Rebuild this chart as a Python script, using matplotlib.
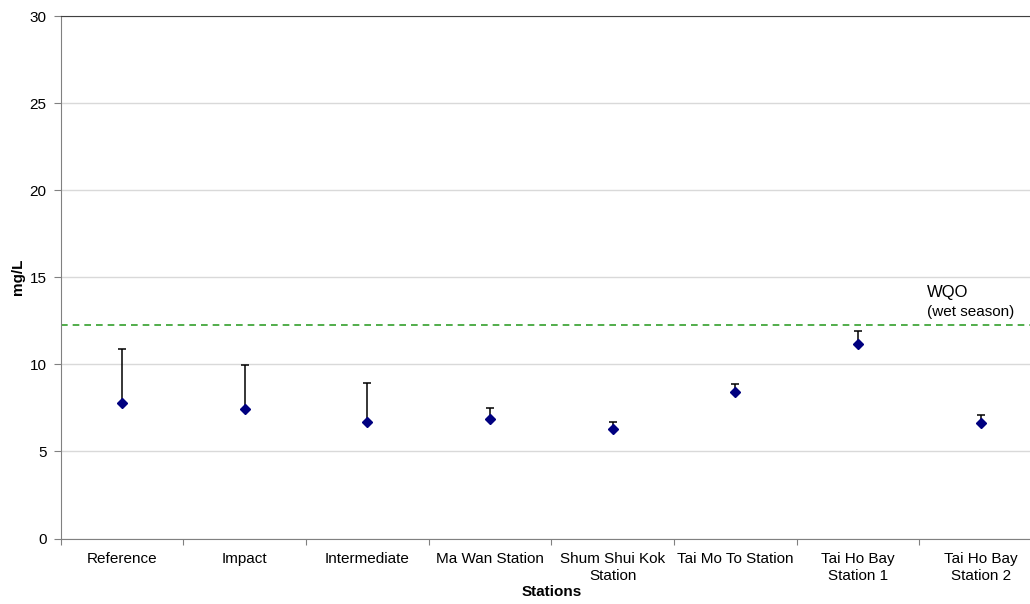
import numpy as np
import matplotlib
matplotlib.use('Agg')
import matplotlib.pyplot as plt

plt.rcParams['font.family'] = ['Liberation Sans', 'DejaVu Sans']

# station means and upper error values (mg/L)
stations = ['Reference', 'Impact', 'Intermediate', 'Ma Wan Station',
            'Shum Shui Kok\nStation', 'Tai Mo To Station',
            'Tai Ho Bay\nStation 1', 'Tai Ho Bay\nStation 2']
means = [7.80, 7.45, 6.68, 6.88, 6.28, 8.40, 11.15, 6.63]
upper = [10.88, 9.96, 8.93, 7.51, 6.69, 8.85, 11.93, 7.10]
wqo = 12.27

x = np.arange(1, len(stations) + 1)
err_up = np.array(upper) - np.array(means)
err_lo = np.zeros(len(means))

fig = plt.figure(figsize=(10.30, 6.04), dpi=100)
ax = fig.add_axes([60.5/1030, 65.5/604, 981.5/1030, 522.5/604])

ax.axhline(wqo, color='#33a02c', linestyle=(0, (4, 3)), linewidth=1.2, zorder=2)

ax.errorbar(x, means, yerr=[err_lo, err_up], fmt='D', color='#000080',
            markersize=5.5, ecolor='black', elinewidth=1.1, capsize=3,
            capthick=1.1, zorder=3)

ax.set_xlim(0.5, len(stations) + 0.5)
ax.set_ylim(0, 30)
ax.set_yticks(np.arange(0, 31, 5))
ax.grid(axis='y', color='#d9d9d9', linewidth=1)
ax.set_axisbelow(True)

ax.set_xticks(np.arange(0.5, len(stations) + 1, 1))
ax.set_xticklabels([])
ax.set_xticks(x, minor=True)
ax.set_xticklabels(stations, minor=True, fontsize=11, linespacing=1.2)
ax.tick_params(axis='x', which='minor', length=0, pad=10)
ax.tick_params(axis='x', which='major', length=4, color='#808080')
ax.tick_params(axis='y', length=5, color='#808080', labelsize=11, pad=5)

for side in ['left', 'bottom']:
    ax.spines[side].set_color('#808080')
ax.spines['top'].set_color('#404040')
ax.spines['right'].set_visible(False)

ax.set_ylabel('mg/L', fontsize=11, fontweight='bold', labelpad=3)
ax.set_xlabel('Stations', fontsize=11, fontweight='bold', labelpad=2)

ax.text(7.56, 14.15, 'WQO', fontsize=12, va='center', ha='left')
ax.text(7.56, 13.0, '(wet season)', fontsize=11, va='center', ha='left')

fig.savefig('out.png', dpi=100)
